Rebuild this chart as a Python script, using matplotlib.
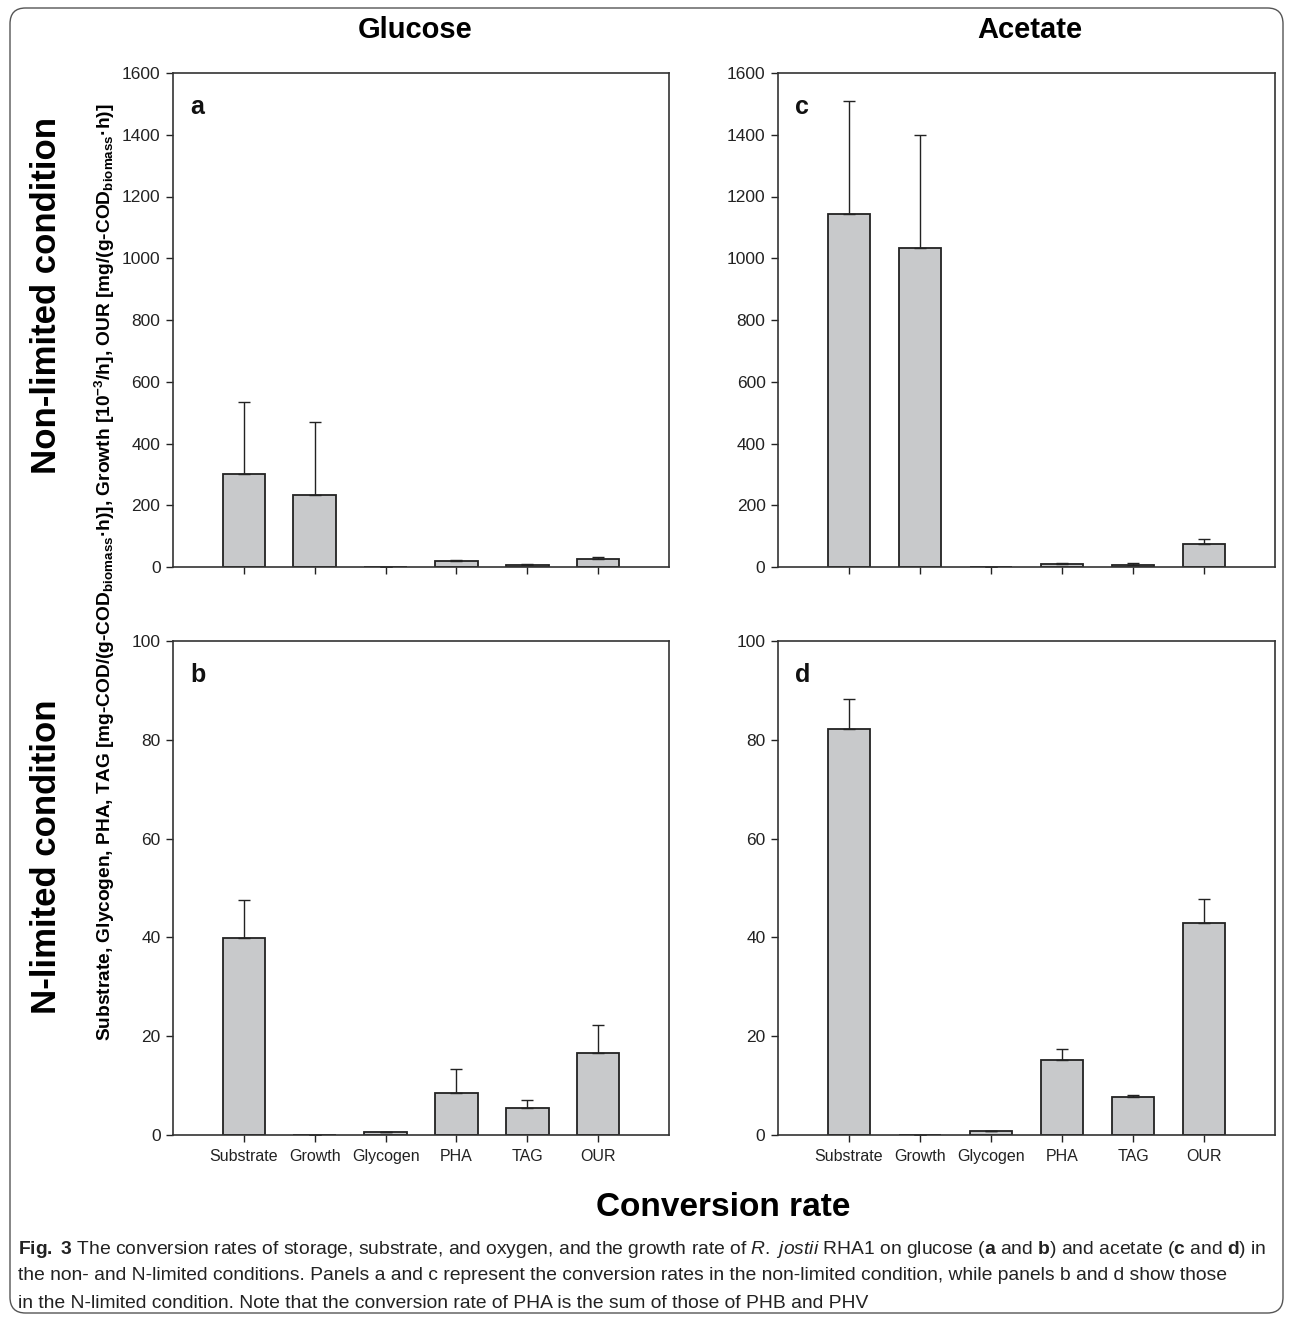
import numpy as np
import matplotlib
matplotlib.use("Agg")
from matplotlib import pyplot as plt
from matplotlib.patches import FancyBboxPatch

plt.rcParams['font.family'] = ['Liberation Sans', 'DejaVu Sans']
plt.rcParams['mathtext.fontset'] = 'custom'
plt.rcParams['mathtext.rm'] = 'Liberation Sans'
plt.rcParams['mathtext.it'] = 'Liberation Sans:italic'
plt.rcParams['mathtext.bf'] = 'Liberation Sans:bold'

categories = ["Substrate", "Growth", "Glycogen", "PHA", "TAG", "OUR"]

# panel a: glucose, non-limited
glu_non = [301, 233, 1, 19.5, 5, 26]
glu_non_err = [233, 237, 0, 4, 3.5, 6]
# panel b: glucose, N-limited
glu_n = [39.9, 0, 0.6, 8.6, 5.4, 16.5]
glu_n_err = [7.6, 0, 0, 4.8, 1.6, 5.7]
# panel c: acetate, non-limited
ace_non = [1142, 1032, 1.5, 10.5, 7.5, 75]
ace_non_err = [368, 368, 0, 2.5, 6, 16]
# panel d: acetate, N-limited
ace_n = [82.2, 0, 0.8, 15.2, 7.6, 43.0]
ace_n_err = [6.1, 0, 0, 2.3, 0.5, 4.7]

W, H = 1293, 1321
fig = plt.figure(figsize=(W / 100, H / 100), dpi=100)

# rounded frame around whole figure
frame = FancyBboxPatch((10 / W, 8 / H), (W - 20) / W, (H - 16) / H,
                       boxstyle="round,pad=0,rounding_size=0.012",
                       transform=fig.transFigure, fill=False,
                       edgecolor="#555555", linewidth=1.0)
fig.patches.append(frame)


def px_axes(left, top, right, bottom):
    return fig.add_axes([left / W, 1 - bottom / H, (right - left) / W, (bottom - top) / H])


panels = [
    (px_axes(173, 73, 669, 567), glu_non, glu_non_err, 1600, 200, "a", False),
    (px_axes(173, 641, 669, 1135), glu_n, glu_n_err, 100, 20, "b", True),
    (px_axes(778, 73, 1275, 567), ace_non, ace_non_err, 1600, 200, "c", False),
    (px_axes(778, 641, 1275, 1135), ace_n, ace_n_err, 100, 20, "d", True),
]

x = np.arange(len(categories))
edge = "#222222"
for ax, vals, errs, ymax, step, letter, show_x in panels:
    ax.bar(x, vals, width=0.6, color="#c8c9cb", edgecolor=edge, linewidth=1.3,
           yerr=[np.zeros(len(errs)), errs], capsize=4.5,
           error_kw=dict(elinewidth=1.0, capthick=1.0, ecolor=edge), zorder=2)
    ax.set_xlim(-1, 6)
    ax.set_ylim(0, ymax)
    ax.set_yticks(np.arange(0, ymax + 1, step))
    ax.set_xticks(x)
    if show_x:
        ax.set_xticklabels(categories, fontsize=11.5)
    else:
        ax.set_xticklabels([])
    ax.tick_params(axis="y", direction="out", length=5, width=1, labelsize=12.5,
                   colors="#222222", pad=4)
    ax.tick_params(axis="x", direction="out", length=5, width=1, colors="#222222", pad=5)
    for s in ax.spines.values():
        s.set_linewidth(1.2)
        s.set_color("#333333")
    ax.text(0.035, 0.955, letter, transform=ax.transAxes, fontsize=18,
            fontweight="bold", va="top", ha="left", color="#111111")

fig.text(415 / W, 1 - 30 / H, "Glucose", fontsize=21, fontweight="bold",
         ha="center", va="center")
fig.text(1030 / W, 1 - 30 / H, "Acetate", fontsize=21, fontweight="bold",
         ha="center", va="center")
fig.text(46 / W, 1 - 296 / H, "Non-limited condition", fontsize=25, fontweight="bold",
         rotation=90, ha="center", va="center")
fig.text(46 / W, 1 - 857 / H, "N-limited condition", fontsize=25, fontweight="bold",
         rotation=90, ha="center", va="center")

ylab = (r"Substrate, Glycogen, PHA, TAG [mg-COD/(g-COD$_{\mathbf{biomass}}$·h)], "
        r"Growth [10$^{\mathbf{-3}}$/h], OUR [mg/(g-COD$_{\mathbf{biomass}}$·h)]")
fig.text(105 / W, 1 - 572 / H, ylab, fontsize=13.8, fontweight="bold",
         rotation=90, ha="center", va="center")

fig.text(723 / W, 1 - 1208 / H, "Conversion rate", fontsize=24, fontweight="bold",
         ha="center", va="center")

cap_lines = [
    r"$\mathbf{Fig.}$ $\mathbf{3}$ The conversion rates of storage, substrate, and oxygen, and the growth rate of "
    r"$\mathit{R.}$ $\mathit{jostii}$ RHA1 on glucose ($\mathbf{a}$ and $\mathbf{b}$) and acetate ($\mathbf{c}$ and $\mathbf{d}$) in",
    "the non- and N-limited conditions. Panels a and c represent the conversion rates in the non-limited "
    "condition, while panels b and d show those",
    "in the N-limited condition. Note that the conversion rate of PHA is the sum of those of PHB and PHV",
]
for i, line in enumerate(cap_lines):
    fig.text(18 / W, 1 - (1249 + 27 * i) / H, line, fontsize=13.9, ha="left", va="center",
             color="#222222")

fig.savefig("out.png", dpi=100)
